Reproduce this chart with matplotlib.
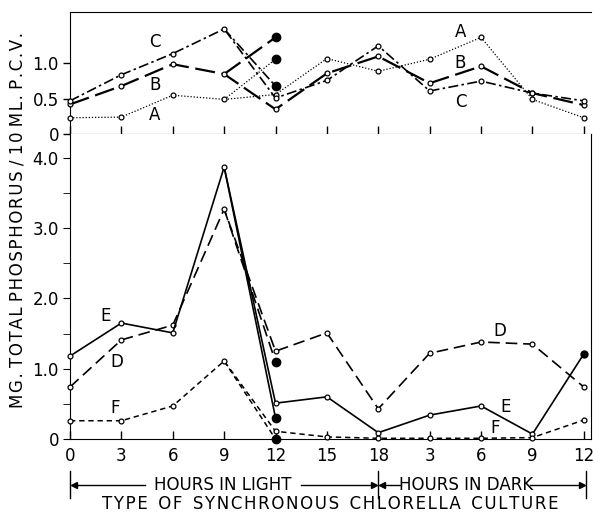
import matplotlib
matplotlib.use("Agg")
import matplotlib.pyplot as plt

# x positions: hours in light 0..18, then hours in dark 3..12
x_labels = ["0", "3", "6", "9", "12", "15", "18", "3", "6", "9", "12"]
xpos = list(range(len(x_labels)))

# top panel: P.C.V. per 10 ml (open circles)
pcv_A = [0.23, 0.24, 0.55, 0.49, 0.56, 1.07, 0.89, 1.06, 1.37, 0.49, 0.23]
pcv_B = [0.42, 0.68, 0.99, 0.85, 0.35, 0.86, 1.10, 0.72, 0.96, 0.58, 0.41]
pcv_C = [0.47, 0.84, 1.14, 1.49, 0.51, 0.76, 1.25, 0.61, 0.75, 0.58, 0.47]
# filled points at 12 hr light
pcv_A_fill = 1.06
pcv_B_fill = 1.37
pcv_C_fill = 0.68

# lower panel: mg total phosphorus per 10 ml
phos_D = [0.74, 1.41, 1.62, 3.27, 1.25, 1.51, 0.43, 1.22, 1.38, 1.35, 0.74]
phos_E = [1.18, 1.65, 1.51, 3.87, 0.51, 0.60, 0.09, 0.34, 0.47, 0.07, 1.21]
phos_F = [0.26, 0.26, 0.47, 1.11, 0.11, 0.03, 0.01, 0.01, 0.01, 0.02, 0.27]
phos_D_fill = 1.10
phos_E_fill = 0.30
phos_F_fill = 0.0

plt.rcParams['font.family'] = 'DejaVu Sans'
fs = 12

def spaced(s, gap='  '):
    # a little letter spacing, like the lettering-guide text of the original
    return gap.join('\u200a'.join(w) for w in s.split())

fig = plt.figure(figsize=(5.93, 5.14), dpi=100)
ax1 = fig.add_axes([70/593, 380/514, 521/593, 122/514])
ax2 = fig.add_axes([70/593, 75/514, 521/593, 305/514])

xmax = 10.14

def serie(ax, y, fill, ls, lw):
    ax.plot(xpos, y, color='black', linestyle=ls, linewidth=lw, marker='o',
            markersize=3.5, markerfacecolor='white', markeredgewidth=0.9, clip_on=False, zorder=3)
    if fill is not None:
        ax.plot([3, 4], [y[3], fill], color='black', linestyle=ls, linewidth=lw, zorder=2)
        ax.plot([4], [fill], 'o', color='black', markersize=6, clip_on=False, zorder=4)

# ---- top panel
serie(ax1, pcv_A, pcv_A_fill, (0, (1, 1.5)), 0.9)
serie(ax1, pcv_B, pcv_B_fill, (0, (9, 3)), 1.6)
serie(ax1, pcv_C, pcv_C_fill, (0, (6, 2, 1.5, 2)), 1.2)
ax1.set_xlim(0, xmax)
ax1.set_ylim(0, 1.73)
ax1.set_yticks([0, 0.5, 1.0])
ax1.set_yticklabels(["0", "0.5", "1.0"], fontsize=fs)
ax1.set_xticks(xpos)
ax1.set_xticklabels([])
ax1.tick_params(direction='in', length=6, width=1, top=False, right=False)
ax1.tick_params(axis='y', direction='out', length=5, pad=3)
ax1.spines['right'].set_visible(False)
ax1.patch.set_alpha(0)

for t, x, y in [("C", 1.65, 1.30), ("B", 1.65, 0.70), ("A", 1.65, 0.27),
                ("A", 7.6, 1.44), ("B", 7.6, 1.01), ("C", 7.6, 0.46)]:
    ax1.text(x, y, t, fontsize=fs, ha='center', va='center')

# ---- lower panel
serie(ax2, phos_D, phos_D_fill, (0, (7, 3.5)), 1.2)
serie(ax2, phos_E, phos_E_fill, '-', 1.2)
serie(ax2, phos_F, phos_F_fill, (0, (3.5, 2.5)), 1.1)
# filled last point of E
ax2.plot([10], [phos_E[-1]], 'o', color='black', markersize=5, clip_on=False, zorder=5)
ax2.set_xlim(0, xmax)
ax2.set_ylim(0, 4.34)
ax2.set_yticks([0, 1, 2, 3, 4])
ax2.set_yticklabels(["0", "1.0", "2.0", "3.0", "4.0"], fontsize=fs)
ax2.set_yticks([0.5, 1.5, 2.5, 3.5], minor=True)
ax2.set_xticks(xpos)
ax2.set_xticklabels(x_labels, fontsize=fs)
ax2.tick_params(axis='x', direction='in', length=6, width=1, pad=6)
ax2.tick_params(axis='y', which='both', direction='out', length=5, pad=3)
ax2.spines['top'].set_visible(False)

for t, x, y in [("E", 0.7, 1.75), ("D", 0.92, 1.10), ("F", 0.87, 0.44),
                ("D", 8.37, 1.54), ("E", 8.48, 0.46), ("F", 8.27, 0.16)]:
    ax2.text(x, y, t, fontsize=fs, ha='center', va='center')

# arrows row under x axis
tr = ax2.get_xaxis_transform()
ya = -0.151
for xb in [0, 6, 10.05]:
    ax2.plot([xb, xb], [-0.105, -0.195], color='black', lw=1, transform=tr, clip_on=False)
ax2.text(2.98, ya, "HOURS IN LIGHT", transform=tr, ha='center', va='center', fontsize=fs)
ax2.text(7.7, ya, "HOURS IN DARK", transform=tr, ha='center', va='center', fontsize=fs)
for x0, x1, m in [(1.45, 0.08, '<'), (4.5, 5.92, '>'), (6.45, 6.08, '<'), (8.95, 9.97, '>')]:
    ax2.plot([x0, x1], [ya, ya], color='black', lw=1, transform=tr, clip_on=False)
    ax2.plot([x1], [ya], marker=m, color='black', markersize=5, transform=tr, clip_on=False)

fig.text(330/593, 1 - 504/514, spaced("TYPE OF SYNCHRONOUS CHLORELLA CULTURE"),
         ha='center', va='center', fontsize=fs)
fig.text(18/593, 1 - 220/514, spaced("MG. TOTAL PHOSPHORUS / 10 ML. P.C.V.", ' '),
         rotation=90, ha='center', va='center', fontsize=fs)

fig.savefig("out.png", dpi=100)
